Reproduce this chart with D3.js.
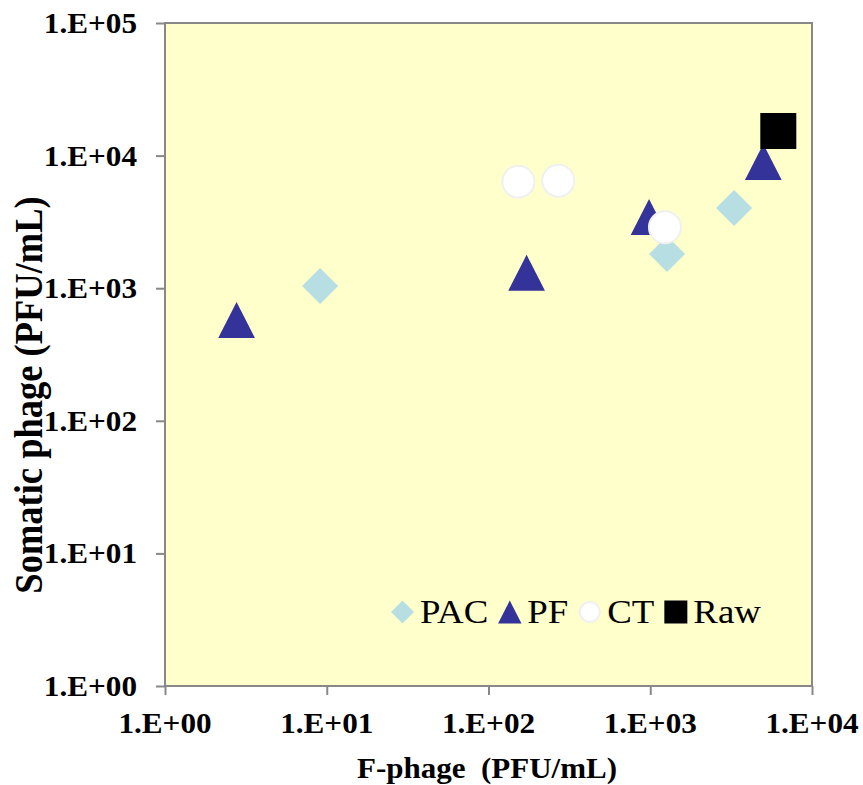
<!DOCTYPE html>
<html>
<head>
<meta charset="utf-8">
<script src="https://cdn.jsdelivr.net/npm/d3@7"></script>
<style>
  html, body { margin: 0; padding: 0; background: #fff; }
  text { font-family: "Liberation Serif", "Times New Roman", serif; }
</style>
</head>
<body>
<svg id="chart" width="863" height="785"></svg>
<script>
// Series values (F-phage on x, somatic phage on y, both PFU/mL)
const pacX = [9.1, 1270, 3300];
const pacY = [1040, 1810, 4030];
const pfX = [2.77, 172, 983, 5000];
const pfY = [575, 1310, 3440, 8950];
const ctX = [153, 270, 1233];
const ctY = [6350, 6470, 2880];
const rawX = [6190];
const rawY = [15300];

const xTicks = [1, 10, 100, 1000, 10000];
const yTicks = [1, 10, 100, 1000, 10000, 100000];
const legendNames = ["PAC", "PF", "CT", "Raw"];
const xTitle = "F-phage  (PFU/mL)";
const yTitle = "Somatic phage (PFU/mL)";

const svg = d3.select("#chart");
const plot = { left: 165, right: 812, top: 23, bottom: 686 };

const x = d3.scaleLog().domain([1, 1e4]).range([plot.left, plot.right]);
const y = d3.scaleLog().domain([1, 1e5]).range([plot.bottom, plot.top]);

const expFmt = v => "1.E+" + String(Math.round(Math.log10(v))).padStart(2, "0");

// plot background
svg.append("rect")
  .attr("x", plot.left).attr("y", plot.top)
  .attr("width", plot.right - plot.left).attr("height", plot.bottom - plot.top)
  .attr("fill", "#ffffcc");

// axes (ticks only, labels drawn separately)
const gx = svg.append("g").attr("transform", `translate(0,${plot.bottom})`)
  .call(d3.axisBottom(x).tickValues(xTicks).tickSize(9).tickFormat(""));
const gy = svg.append("g").attr("transform", `translate(${plot.left},0)`)
  .call(d3.axisLeft(y).tickValues(yTicks).tickSize(9).tickFormat(""));
[gx, gy].forEach(g => {
  g.select(".domain").remove();
  g.selectAll(".tick line").attr("stroke", "#888").attr("stroke-width", 2);
});

// frame
svg.append("rect")
  .attr("x", plot.left).attr("y", plot.top)
  .attr("width", plot.right - plot.left).attr("height", plot.bottom - plot.top)
  .attr("fill", "none").attr("stroke", "#888").attr("stroke-width", 2);

// tick labels
const tickSX = 1.04;
svg.append("g").selectAll("text").data(xTicks).join("text")
  .attr("transform", d => `translate(${x(d)},733) scale(${tickSX},1)`)
  .attr("text-anchor", "middle")
  .attr("font-weight", "bold").attr("font-size", 30)
  .text(expFmt);
svg.append("g").selectAll("text").data(yTicks).join("text")
  .attr("transform", d => `translate(137,${y(d) + 10}) scale(${tickSX},1)`)
  .attr("text-anchor", "end")
  .attr("font-weight", "bold").attr("font-size", 30)
  .text(expFmt);

// axis titles
svg.append("text")
  .attr("transform", `translate(487,778) scale(1.07,1)`)
  .attr("text-anchor", "middle").style("white-space", "pre")
  .attr("font-weight", "bold").attr("font-size", 29)
  .text(xTitle);
svg.append("text")
  .attr("transform", `translate(42,395) rotate(-90) scale(1,1.11)`)
  .attr("text-anchor", "middle")
  .attr("font-weight", "bold").attr("font-size", 36.5)
  .text(yTitle);

// marker shapes
const shapes = {
  diamond: s => `M0,${-s/2}L${s/2},0L0,${s/2}L${-s/2},0Z`,
  triangle: s => `M0,${-s/2}L${s*0.51},${s/2}L${-s*0.51},${s/2}Z`,
  square: s => `M${-s/2},${-s/2}H${s/2}V${s/2}H${-s/2}Z`
};

const series = [
  { name: legendNames[0], xs: pacX, ys: pacY, type: "diamond", size: 36, fill: "#b7dfe3", stroke: "none" },
  { name: legendNames[1], xs: pfX, ys: pfY, type: "triangle", size: 36, fill: "#333399", stroke: "none" },
  { name: legendNames[2], xs: ctX, ys: ctY, type: "circle", size: 34, fill: "#ffffff", stroke: "#f0f0f0" },
  { name: legendNames[3], xs: rawX, ys: rawY, type: "square", size: 36, fill: "#000000", stroke: "none" }
];

function drawMarker(g, s, cx, cy, size) {
  if (s.type === "circle") {
    g.append("circle").attr("cx", cx).attr("cy", cy).attr("r", size / 2 - 1)
      .attr("fill", s.fill).attr("stroke", s.stroke).attr("stroke-width", 2);
  } else {
    g.append("path").attr("transform", `translate(${cx},${cy})`)
      .attr("d", shapes[s.type](size)).attr("fill", s.fill);
  }
}

const marks = svg.append("g");
series.forEach(s => {
  s.xs.forEach((xv, i) => drawMarker(marks, s, x(xv), y(s.ys[i]), s.size));
});

// legend
const leg = svg.append("g");
let lx = 391;
const ly = 612;
series.forEach(s => {
  const ms = 23;
  drawMarker(leg, s, lx + ms / 2, ly, s.type === "circle" ? 22 : ms);
  lx += ms + 6;
  const t = leg.append("text")
    .attr("transform", `translate(${lx},623) scale(1.1,1)`)
    .attr("font-size", 33.5).attr("fill", "#000")
    .text(s.name);
  lx += t.node().getComputedTextLength() * 1.1 + 10;
});
</script>
</body>
</html>
